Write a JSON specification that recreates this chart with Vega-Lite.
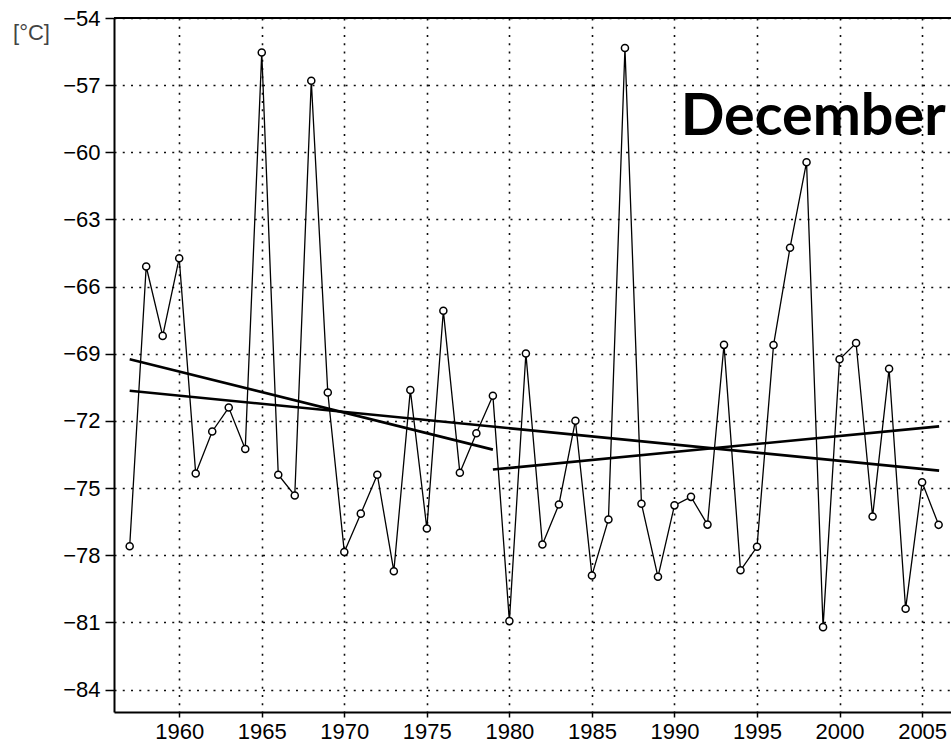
{
  "$schema": "https://vega.github.io/schema/vega-lite/v6.json",
  "width": 837,
  "height": 694,
  "autosize": {"type": "none"},
  "padding": {"left": 114, "top": 18, "right": 0, "bottom": 31},
  "background": "white",
  "config": {
    "view": {"stroke": null},
    "axis": {
      "domainColor": "black",
      "domainWidth": 2,
      "tickColor": "black",
      "tickWidth": 1.5,
      "labelFont": "Liberation Sans",
      "labelFontSize": 22,
      "labelColor": "black",
      "grid": true,
      "gridColor": "black",
      "gridWidth": 1.6,
      "gridDash": [2, 6.25],
      "gridOpacity": 0.95
    }
  },
  "datasets": {
    "temps": [
      {"year": 1957, "t": -77.6}, {"year": 1958, "t": -65.1}, {"year": 1959, "t": -68.2},
      {"year": 1960, "t": -64.73}, {"year": 1961, "t": -74.35}, {"year": 1962, "t": -72.47},
      {"year": 1963, "t": -71.4}, {"year": 1964, "t": -73.25}, {"year": 1965, "t": -55.54},
      {"year": 1966, "t": -74.4}, {"year": 1967, "t": -75.33}, {"year": 1968, "t": -56.8},
      {"year": 1969, "t": -70.73}, {"year": 1970, "t": -77.85}, {"year": 1971, "t": -76.14},
      {"year": 1972, "t": -74.4}, {"year": 1973, "t": -78.71}, {"year": 1974, "t": -70.62},
      {"year": 1975, "t": -76.8}, {"year": 1976, "t": -67.08}, {"year": 1977, "t": -74.31},
      {"year": 1978, "t": -72.55}, {"year": 1979, "t": -70.87}, {"year": 1980, "t": -80.94},
      {"year": 1981, "t": -68.99}, {"year": 1982, "t": -77.52}, {"year": 1983, "t": -75.73},
      {"year": 1984, "t": -71.99}, {"year": 1985, "t": -78.9}, {"year": 1986, "t": -76.4},
      {"year": 1987, "t": -55.34}, {"year": 1988, "t": -75.7}, {"year": 1989, "t": -78.96},
      {"year": 1990, "t": -75.77}, {"year": 1991, "t": -75.39}, {"year": 1992, "t": -76.63},
      {"year": 1993, "t": -68.6}, {"year": 1994, "t": -78.67}, {"year": 1995, "t": -77.62},
      {"year": 1996, "t": -68.61}, {"year": 1997, "t": -64.26}, {"year": 1998, "t": -60.44},
      {"year": 1999, "t": -81.21}, {"year": 2000, "t": -69.24}, {"year": 2001, "t": -68.52},
      {"year": 2002, "t": -76.27}, {"year": 2003, "t": -69.67}, {"year": 2004, "t": -80.39},
      {"year": 2005, "t": -74.74}, {"year": 2006, "t": -76.64}
    ],
    "trends": [
      {"seg": "all", "year": 1957, "t": -70.65}, {"seg": "all", "year": 2006.03, "t": -74.22},
      {"seg": "early", "year": 1957, "t": -69.24}, {"seg": "early", "year": 1979, "t": -73.28},
      {"seg": "late", "year": 1979, "t": -74.17}, {"seg": "late", "year": 2006.03, "t": -72.24}
    ],
    "labels": [
      {"label": "December", "year": 1990.38, "t": -59.23}
    ],
    "border": [
      {"t": -54}
    ]
  },
  "layer": [
    {
      "data": {"name": "temps"},
      "mark": {"type": "line", "color": "black", "strokeWidth": 1.3},
      "encoding": {
        "x": {
          "field": "year", "type": "quantitative",
          "scale": {"domain": [1956.05, 2006.75], "nice": false, "zero": false},
          "axis": {"values": [1960, 1965, 1970, 1975, 1980, 1985, 1990, 1995, 2000, 2005], "format": "d", "title": null, "tickSize": 5, "labelPadding": 4, "labelFlush": false, "labelOverlap": false}
        },
        "y": {
          "field": "t", "type": "quantitative",
          "scale": {"domain": [-85, -54], "nice": false, "zero": false},
          "axis": {
            "values": [-54, -57, -60, -63, -66, -69, -72, -75, -78, -81, -84],
            "tickSize": 9, "labelPadding": 5, "labelFlush": false, "labelOverlap": false,
            "title": "[°C]", "titleAngle": 0, "titleX": -83, "titleY": 21.5,
            "titleAlign": "center", "titleBaseline": "alphabetic",
            "titleFont": "Liberation Sans", "titleFontSize": 22, "titleFontWeight": "normal", "titleColor": "#444"
          }
        }
      }
    },
    {
      "data": {"name": "temps"},
      "mark": {"type": "point", "shape": "circle", "filled": false, "fill": "white", "fillOpacity": 1, "stroke": "black", "strokeWidth": 1.5, "size": 50, "opacity": 1},
      "encoding": {
        "x": {"field": "year", "type": "quantitative"},
        "y": {"field": "t", "type": "quantitative"}
      }
    },
    {
      "data": {"name": "trends"},
      "mark": {"type": "line", "color": "black", "strokeWidth": 2.6},
      "encoding": {
        "x": {"field": "year", "type": "quantitative"},
        "y": {"field": "t", "type": "quantitative"},
        "detail": {"field": "seg", "type": "nominal"}
      }
    },
    {
      "data": {"name": "border"},
      "mark": {"type": "rule", "color": "black", "strokeWidth": 2},
      "encoding": {"y": {"field": "t", "type": "quantitative"}}
    },
    {
      "data": {"name": "labels"},
      "mark": {"type": "text", "font": "Lato", "fontWeight": "bold", "fontSize": 57.5, "align": "left", "baseline": "alphabetic", "color": "black"},
      "encoding": {
        "x": {"field": "year", "type": "quantitative"},
        "y": {"field": "t", "type": "quantitative"},
        "text": {"field": "label", "type": "nominal"}
      }
    }
  ]
}
